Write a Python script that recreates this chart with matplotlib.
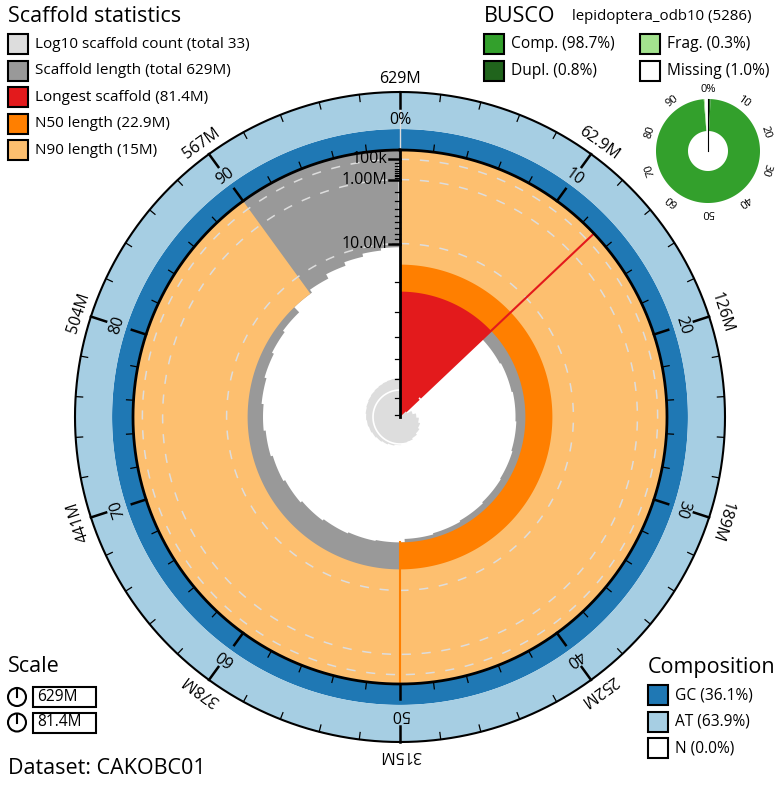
import numpy as np
import matplotlib.pyplot as plt
from matplotlib.patches import Polygon, Rectangle, Circle

plt.rcParams['font.family'] = ['Open Sans', 'DejaVu Sans']

# scaffold lengths in Mb, longest first (33 scaffolds, 629M total)
scaffold_lengths = [81.4, 27.0, 26.6, 26.2, 25.9, 25.5, 25.2, 24.8, 24.4, 24.0,
                    22.9, 22.6, 22.2, 21.7, 21.1, 20.5, 19.9, 19.3, 18.7, 18.1,
                    17.5, 16.9, 15.0, 14.1, 12.9, 12.0, 11.3, 10.8,
                    0.21, 0.12, 0.08, 0.05, 0.04]
total_length = 629.0
longest = 81.4
n50 = 22.9
n90 = 15.0
gc_pct = 36.1
at_pct = 63.9
n_pct = 0.0

busco_lineage = 'lepidoptera_odb10 (5286)'
busco_comp = 98.7
busco_dupl = 0.8
busco_frag = 0.3
busco_missing = 1.0

outer_labels = ['629M', '62.9M', '126M', '189M', '252M', '315M', '378M', '441M', '504M', '567M']
pct_labels = ['0%', '10', '20', '30', '40', '50', '60', '70', '80', '90']
busco_pct_labels = ['0%', '10', '20', '30', '40', '50', '60', '70', '80', '90']
len_ticks = [0.1, 1.0, 10.0]
len_tick_labels = ['100k', '1.00M', '10.0M']
len_minor = [0.2, 0.3, 0.4, 0.5, 0.6, 0.7, 0.8, 0.9, 2, 3, 4, 5, 6, 7, 8, 9,
             20, 30, 40, 50, 60, 70, 80]
scale_labels = ['629M', '81.4M']
dataset = 'CAKOBC01'

# colours
c_count = '#dddddd'
c_len = '#999999'
c_red = '#e31a1c'
c_n50 = '#ff7f00'
c_n90 = '#fdbf6f'
c_gc = '#1f78b4'
c_at = '#a6cee3'
c_comp = '#33a02c'
c_dupl = '#20641c'
c_frag = '#a3e28e'

CX, CY = 400, 417
R = 267
R_OUT = 325
R_GC = R + (R_OUT - R) * gc_pct / 100


def pt(r, a, cx=CX, cy=CY):
    a = np.radians(a)
    return cx + r * np.sin(a), cy - r * np.cos(a)


def sector(r0, r1, a0, a1, cx=CX, cy=CY):
    ang = np.linspace(a0, a1, max(int(abs(a1 - a0) * 2), 2))
    outer = [pt(r1, a, cx, cy) for a in ang]
    if r0 <= 0:
        inner = [(cx, cy)]
    else:
        inner = [pt(r0, a, cx, cy) for a in ang[::-1]]
    return outer + inner


def rlen(L):
    return R * (1 - np.sqrt(np.asarray(L) / longest))


fig = plt.figure(figsize=(7.83, 7.85), dpi=100)
ax = fig.add_axes([0, 0, 1, 1])
ax.set_xlim(0, 783)
ax.set_ylim(785, 0)
ax.axis('off')

# composition ring
ax.add_patch(Polygon(sector(R, R_GC, 0, 360), closed=True, fc=c_gc, ec='none', zorder=1))
ax.add_patch(Polygon(sector(R_GC, R_OUT, 0, 360), closed=True, fc=c_at, ec='none', zorder=1))
ax.plot(*zip(pt(R, 0), pt(R_OUT - 15, 0)), color='#dddddd', lw=1, zorder=2)

# bins
lengths = np.array(scaffold_lengths)
nbins = 1000
pos = (np.arange(nbins) + 0.5) / nbins * lengths.sum()
idx = np.searchsorted(np.cumsum(lengths), pos)
bin_len = lengths[idx]
bin_count = idx + 1
step = 360 / nbins

# scaffold length (grey)
pts = [pt(R, a) for a in np.linspace(0, 360, 721)]
for i in range(nbins - 1, -1, -1):
    r = rlen(bin_len[i])
    pts.append(pt(r, (i + 1) * step))
    pts.append(pt(r, i * step))
ax.add_patch(Polygon(pts, closed=True, fc=c_len, ec='none', zorder=2))

# longest, N50, N90
a_long = longest / total_length * 360
ax.add_patch(Polygon(sector(0, R, 0, a_long), closed=True, fc=c_red, ec='none', zorder=3))
ax.add_patch(Polygon(sector(rlen(n50), R, 0, 180), closed=True, fc=c_n50, ec='none', zorder=4))
ax.add_patch(Polygon(sector(rlen(n90), R, 0, 324), closed=True, fc=c_n90, ec='none', zorder=5))

# dashed grid circles
circ = np.linspace(0, 360, 721)
for L in len_ticks:
    xs, ys = pt(rlen(L), circ)
    ax.plot(xs, ys, color='#dddddd', lw=1.1, dashes=(6, 7), zorder=6)

ax.plot(*zip(pt(0, a_long), pt(R, a_long)), color=c_red, lw=1.5, zorder=7)
ax.plot(*zip(pt(rlen(n50), 180), pt(R, 180)), color=c_n50, lw=1.5, zorder=7)

# log10 scaffold count spiral
k_count = 27
pts = [(CX, CY)]
for i in range(nbins):
    r = k_count * np.log10(bin_count[i])
    pts.append(pt(r, i * step))
    pts.append(pt(r, (i + 1) * step))
ax.add_patch(Polygon(pts, closed=True, fc=c_count, ec='none', zorder=8))
xs, ys = pt(k_count, np.linspace(a_long, 360, 500))
ax.plot(xs, ys, color='white', lw=1.2, zorder=9)

# radial axis
ax.plot([CX, CX], [CY, CY - R], color='black', lw=2, zorder=10)
for L in len_minor:
    ax.plot([CX - 5, CX], [CY - rlen(L)] * 2, color='black', lw=0.9, zorder=10)
for L, lab in zip(len_ticks, len_tick_labels):
    ax.plot([CX - 11, CX], [CY - rlen(L)] * 2, color='black', lw=1.8, zorder=10)
    ax.text(CX - 13, CY - rlen(L), lab, ha='right', va='center', fontsize=11.5, zorder=11)

# circles
xs, ys = pt(R, circ)
ax.plot(xs, ys, color='black', lw=2, zorder=10)
xs, ys = pt(R_OUT, circ)
ax.plot(xs, ys, color='black', lw=1.5, zorder=10)

# percent ticks and outer ticks
for k in range(50):
    a = k * 7.2
    major = k % 5 == 0
    if k > 0:
        ax.plot(*zip(pt(R, a), pt(R + (15 if major else 7), a)), color='black',
                lw=1.8 if major else 0.9, zorder=10)
    ax.plot(*zip(pt(R_OUT, a), pt(R_OUT - (16 if major else 7), a)), color='black',
            lw=1.8 if major else 0.9, zorder=10)
for k in range(10):
    a = k * 36
    x, y = pt(297, a)
    ax.text(x, y, pct_labels[k], ha='center', va='center', rotation=-a,
            rotation_mode='anchor', fontsize=11.5, zorder=11)
    x, y = pt(338, a)
    ax.text(x, y, outer_labels[k], ha='center', va='center', rotation=-a,
            rotation_mode='anchor', fontsize=11.5, zorder=11)

# BUSCO donut
BX, BY, BR, BRI = 708, 151, 52, 20
busco_parts = [(busco_dupl, c_dupl), (busco_comp - busco_dupl, c_comp),
               (busco_frag, c_frag), (busco_missing, 'white')]
start = 0
for val, col in busco_parts:
    end = start + val * 3.6
    ax.add_patch(Polygon(sector(BRI, BR, start, end, BX, BY), closed=True,
                         fc=col, ec='none', zorder=3))
    start = end
ax.plot([BX, BX], [BY, BY - BR], color='black', lw=0.8, zorder=4)
for k in range(10):
    a = k * 36
    x, y = pt(BR + 9, a, BX, BY)
    ax.text(x, y, busco_pct_labels[k], ha='center', va='center', rotation=-a,
            rotation_mode='anchor', fontsize=8, zorder=4)

# legends
def legend_box(x, y, col):
    ax.add_patch(Rectangle((x, y - 10), 20, 20, fc=col, ec='black', lw=1.5, zorder=12))


ax.text(8, 17, 'Scaffold statistics', ha='left', va='center', fontsize=15.5)
stats_items = [(c_count, 'Log10 scaffold count (total %d)' % len(scaffold_lengths)),
               (c_len, 'Scaffold length (total 629M)'),
               (c_red, 'Longest scaffold (81.4M)'),
               (c_n50, 'N50 length (22.9M)'),
               (c_n90, 'N90 length (15M)')]
for i, (col, lab) in enumerate(stats_items):
    y = 44 + i * 26.6
    legend_box(8, y, col)
    ax.text(35, y, lab, ha='left', va='center', fontsize=11)

ax.text(484, 17, 'BUSCO', ha='left', va='center', fontsize=15.5)
ax.text(572, 17, busco_lineage, ha='left', va='center', fontsize=10.8)
busco_items = [(484, 44, c_comp, 'Comp. (%.1f%%)' % busco_comp),
               (484, 71, c_dupl, 'Dupl. (%.1f%%)' % busco_dupl),
               (640, 44, c_frag, 'Frag. (%.1f%%)' % busco_frag),
               (640, 71, 'white', 'Missing (%.1f%%)' % busco_missing)]
for x, y, col, lab in busco_items:
    legend_box(x, y, col)
    ax.text(x + 27, y, lab, ha='left', va='center', fontsize=11.2)

ax.text(648, 667, 'Composition', ha='left', va='center', fontsize=15.5)
comp_items = [(c_gc, 'GC (%.1f%%)' % gc_pct), (c_at, 'AT (%.1f%%)' % at_pct),
              ('white', 'N (%.1f%%)' % n_pct)]
for i, (col, lab) in enumerate(comp_items):
    y = 695 + i * 26.6
    legend_box(648, y, col)
    ax.text(675, y, lab, ha='left', va='center', fontsize=11.2)

ax.text(8, 667, 'Scale', ha='left', va='center', fontsize=15.5)
for i, lab in enumerate(scale_labels):
    y = 697 + i * 25.5
    ax.add_patch(Circle((17, y), 9, fc='none', ec='black', lw=1.5, zorder=12))
    ax.plot([17, 17], [y, y - 9], color='black', lw=1.5, zorder=12)
    ax.add_patch(Rectangle((33, y - 10), 63, 20, fc='none', ec='black', lw=1.5, zorder=12))
    ax.text(37, y, lab, ha='left', va='center', fontsize=11.2)

ax.text(8, 768, 'Dataset: ' + dataset, ha='left', va='center', fontsize=15.5)

fig.savefig('out.png', dpi=100)
